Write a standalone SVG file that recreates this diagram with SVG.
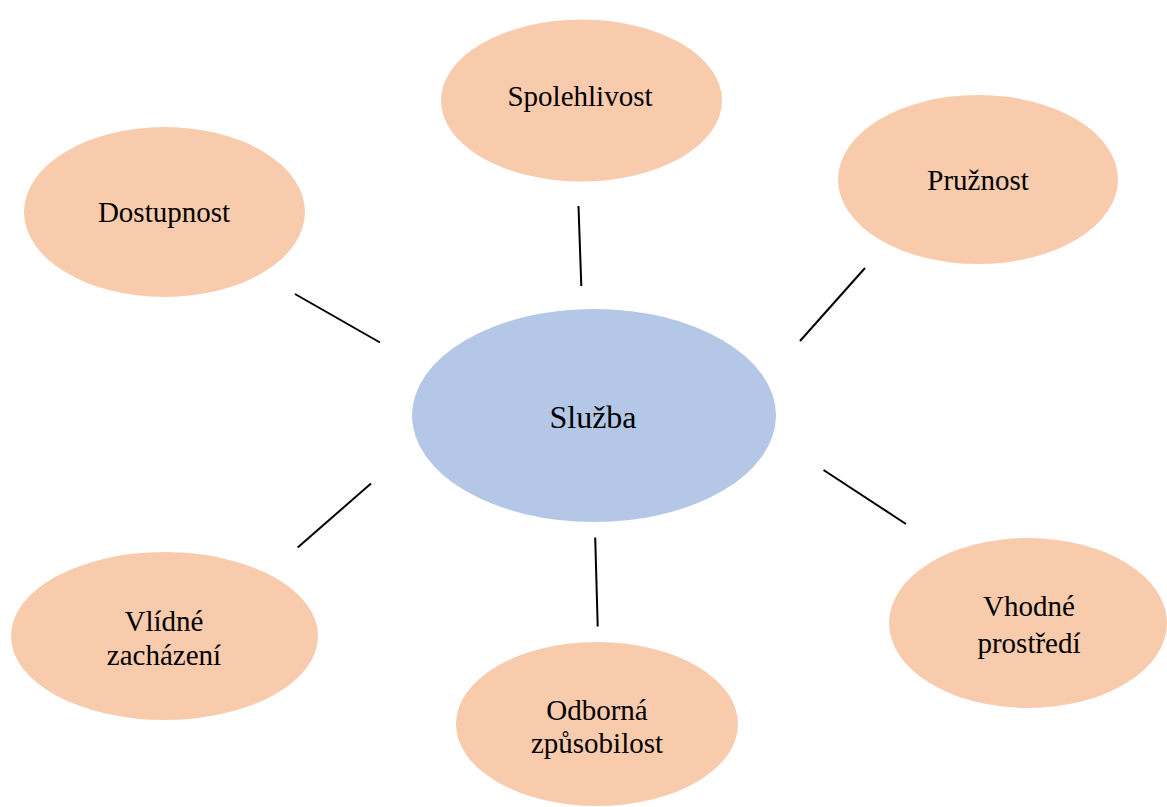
<svg xmlns="http://www.w3.org/2000/svg" width="1167" height="807" viewBox="0 0 1167 807">
<style>
.bg{fill:#ffffff}
.peach{fill:#F8CBAD}
.blue{fill:#B4C7E7}
.lbl{font-family:"Liberation Serif","Times New Roman",serif;font-size:29px;fill:#000;text-anchor:middle}
.big{font-size:32px}
.conn line{stroke:#000;stroke-width:2;stroke-linecap:butt}
</style>
<rect class="bg" x="0" y="0" width="1167" height="807"/>
<g id="connectors" class="conn">
<line x1="578.5" y1="206" x2="581.3" y2="286"/>
<line x1="295" y1="294" x2="380" y2="342.5"/>
<line x1="865" y1="268" x2="800" y2="341"/>
<line x1="371" y1="483.5" x2="297.7" y2="547.5"/>
<line x1="595.2" y1="537.5" x2="597.7" y2="626.5"/>
<line x1="823.5" y1="470" x2="906" y2="524"/>
</g>
<g id="node-sluzba">
<ellipse class="blue" cx="594" cy="415.5" rx="182" ry="106.5"/>
<text class="lbl big" x="593" y="428">Služba</text>
</g>
<g id="node-spolehlivost">
<ellipse class="peach" cx="581.5" cy="100.5" rx="140.5" ry="81"/>
<text class="lbl" x="580" y="106">Spolehlivost</text>
</g>
<g id="node-dostupnost">
<ellipse class="peach" cx="164.5" cy="212" rx="140.5" ry="85"/>
<text class="lbl" x="164" y="222">Dostupnost</text>
</g>
<g id="node-pruznost">
<ellipse class="peach" cx="978" cy="179.5" rx="140" ry="84.5"/>
<text class="lbl" x="978" y="190">Pružnost</text>
</g>
<g id="node-vlidne">
<ellipse class="peach" cx="164.5" cy="636" rx="153.5" ry="84"/>
<text class="lbl" x="164" y="630.5">Vlídné</text>
<text class="lbl" x="164" y="664.5">zacházení</text>
</g>
<g id="node-odborna">
<ellipse class="peach" cx="597" cy="724" rx="141" ry="82"/>
<text class="lbl" x="597" y="719.5">Odborná</text>
<text class="lbl" x="597" y="753">způsobilost</text>
</g>
<g id="node-vhodne">
<ellipse class="peach" cx="1028" cy="623" rx="139" ry="85"/>
<text class="lbl" x="1029" y="615.5">Vhodné</text>
<text class="lbl" x="1029" y="653">prostředí</text>
</g>
</svg>
